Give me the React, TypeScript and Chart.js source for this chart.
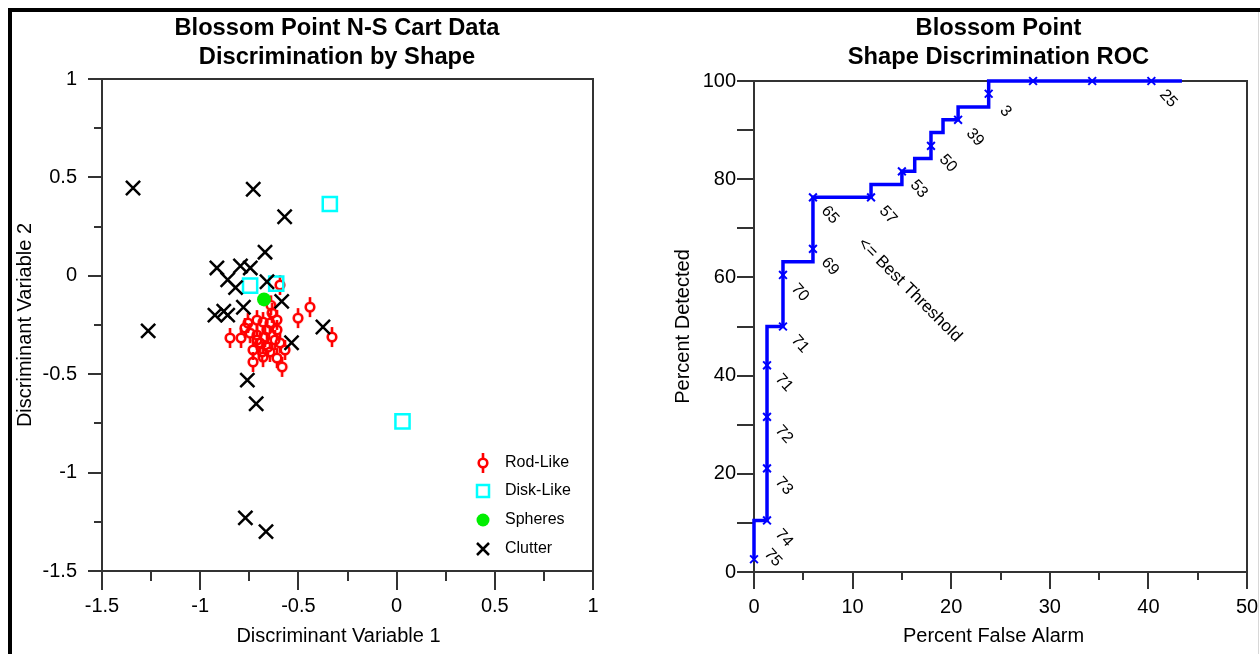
import React, { useEffect, useRef } from 'react';
import { Chart, registerables } from 'chart.js';

Chart.register(...registerables);

const FONT = "Arial, 'Liberation Sans', Helvetica, sans-serif";

// ---------------- Left chart: discriminant scatter ----------------
const leftTitle = ['Blossom Point N-S Cart Data', 'Discrimination by Shape'];
const leftXTitle = 'Discriminant Variable 1';
const leftYTitle = 'Discriminant Variable 2';
const leftMajorTicks = [-1.5, -1, -0.5, 0, 0.5, 1];
const leftMinorTicks = [-1.25, -0.75, -0.25, 0.25, 0.75];
const legendLabels = ['Rod-Like', 'Disk-Like', 'Spheres', 'Clutter'];

const rodX = [-0.594, -0.441, -0.502, -0.329, -0.634, -0.64, -0.848, -0.792, -0.757, -0.711, -0.68, -0.645, -0.609, -0.746, -0.711, -0.67, -0.696, -0.655, -0.731, -0.685, -0.619, -0.594, -0.568, -0.609, -0.583, -0.68, -0.731, -0.645, -0.711, -0.772, -0.66, -0.609];
const rodY = [-0.047, -0.159, -0.215, -0.311, -0.189, -0.15, -0.316, -0.316, -0.24, -0.225, -0.235, -0.24, -0.275, -0.291, -0.301, -0.311, -0.341, -0.362, -0.377, -0.387, -0.326, -0.341, -0.377, -0.418, -0.463, -0.413, -0.438, -0.387, -0.326, -0.265, -0.275, -0.224];

const diskX = [-0.746, -0.613, -0.34, 0.03];
const diskY = [-0.05, -0.04, 0.365, -0.74];

const sphereX = [-0.675];
const sphereY = [-0.12];

const clutterX = [-1.342, -0.73, -0.57, -0.67, -0.915, -0.795, -0.745, -0.86, -0.82, -0.66, -0.585, -0.78, -0.925, -0.88, -0.86, -1.265, -0.375, -0.535, -0.76, -0.715, -0.77, -0.665];
const clutterY = [0.446, 0.44, 0.3, 0.12, 0.04, 0.05, 0.04, -0.02, -0.06, -0.03, -0.13, -0.16, -0.2, -0.18, -0.2, -0.28, -0.26, -0.34, -0.53, -0.65, -1.23, -1.3];

// ---------------- Right chart: ROC ----------------
const rightTitle = ['Blossom Point', 'Shape Discrimination ROC'];
const rightXTitle = 'Percent False Alarm';
const rightYTitle = 'Percent Detected';
const rightXMajor = [0, 10, 20, 30, 40, 50];
const rightXMinor = [5, 15, 25, 35, 45];
const rightYMajor = [0, 20, 40, 60, 80, 100];
const rightYMinor = [10, 30, 50, 70, 90];

// ROC curve vertices (percent false alarm, percent detected)
const rocFA = [0, 0, 1.32, 1.32, 2.94, 2.94, 5.98, 5.98, 11.87, 11.87, 15.0, 15.0, 16.3, 16.3, 17.95, 17.95, 19.17, 19.17, 20.7, 20.7, 23.8, 23.8, 43.4];
const rocPD = [2.6, 10.5, 10.5, 50, 50, 63.2, 63.2, 76.3, 76.3, 78.9, 78.9, 81.6, 81.6, 84.2, 84.2, 89.5, 89.5, 92.1, 92.1, 94.7, 94.7, 100, 100];

// Threshold markers
const markerFA = [0, 1.32, 1.32, 1.32, 1.32, 2.94, 2.94, 5.98, 5.98, 11.87, 15.0, 17.95, 20.7, 23.8, 28.3, 34.3, 40.3];
const markerPD = [2.6, 10.5, 21.1, 31.6, 42.1, 50, 60.5, 65.8, 76.3, 76.3, 81.6, 86.8, 92.1, 97.4, 100, 100, 100];
const markerLabels = ['75', '74', '73', '72', '71', '71', '70', '69', '65', '57', '53', '50', '39', ' 3', '', '', '25'];

const annotationText = '<= Best Threshold';
const annotationFA = 15.8;
const annotationPD = 57.4;

type AxisSpec = {
  major: number[];
  minor: number[];
  majorLen: number;
  minorLen: number;
  labels: number[];
};

type FrameOpts = {
  x: AxisSpec;
  y: AxisSpec;
  xLabelOffset: number;
  yLabelGap: number;
  title: string[];
  titleDx: number;
  xTitle: string;
  xTitleDx: number;
  xTitleY: number;
  yTitle: string;
  yTitleX: number;
};

function framePlugin(o: FrameOpts) {
  return {
    id: 'frame',
    beforeDatasetsDraw(chart: any) {
      const { ctx, chartArea: a, scales } = chart;
      const xs = scales.x;
      const ys = scales.y;
      ctx.save();
      ctx.strokeStyle = '#333';
      ctx.lineWidth = 2;
      ctx.strokeRect(a.left, a.top, a.right - a.left, a.bottom - a.top);
      ctx.beginPath();
      o.x.major.forEach((v) => {
        const px = Math.round(xs.getPixelForValue(v));
        ctx.moveTo(px, a.bottom);
        ctx.lineTo(px, a.bottom + o.x.majorLen);
      });
      o.x.minor.forEach((v) => {
        const px = Math.round(xs.getPixelForValue(v));
        ctx.moveTo(px, a.bottom);
        ctx.lineTo(px, a.bottom + o.x.minorLen);
      });
      o.y.major.forEach((v) => {
        const py = Math.round(ys.getPixelForValue(v));
        ctx.moveTo(a.left, py);
        ctx.lineTo(a.left - o.y.majorLen, py);
      });
      o.y.minor.forEach((v) => {
        const py = Math.round(ys.getPixelForValue(v));
        ctx.moveTo(a.left, py);
        ctx.lineTo(a.left - o.y.minorLen, py);
      });
      ctx.stroke();

      ctx.fillStyle = '#000';
      ctx.font = `20px ${FONT}`;
      ctx.textAlign = 'center';
      ctx.textBaseline = 'middle';
      o.x.labels.forEach((v) => {
        ctx.fillText(String(v), xs.getPixelForValue(v), a.bottom + o.xLabelOffset);
      });
      ctx.textAlign = 'right';
      o.y.labels.forEach((v) => {
        ctx.fillText(String(v), a.left - o.yLabelGap, ys.getPixelForValue(v));
      });

      // axis titles
      const cx = (a.left + a.right) / 2;
      const cy = (a.top + a.bottom) / 2;
      ctx.textAlign = 'center';
      ctx.fillText(o.xTitle, cx + o.xTitleDx, o.xTitleY);
      ctx.save();
      ctx.translate(o.yTitleX, cy);
      ctx.rotate(-Math.PI / 2);
      ctx.fillText(o.yTitle, 0, 0);
      ctx.restore();

      // title
      ctx.font = `bold 23.7px ${FONT}`;
      ctx.fillText(o.title[0], cx + o.titleDx, 28);
      ctx.fillText(o.title[1], cx + o.titleDx, 57);
      ctx.restore();
    },
  };
}

function makeRodIcon() {
  const c = document.createElement('canvas');
  c.width = 14;
  c.height = 22;
  const g = c.getContext('2d')!;
  g.strokeStyle = '#ff0000';
  g.lineWidth = 2.6;
  g.beginPath();
  g.arc(7, 11, 4.3, 0, Math.PI * 2);
  g.stroke();
  g.beginPath();
  g.moveTo(7, 1);
  g.lineTo(7, 6.7);
  g.moveTo(7, 15.3);
  g.lineTo(7, 21);
  g.stroke();
  return c;
}

const leftLegendPlugin = {
  id: 'leftLegend',
  afterDatasetsDraw(chart: any) {
    const { ctx, chartArea: a } = chart;
    const sx = a.right - 110;
    const tx = a.right - 88;
    const rows = [a.bottom - 108, a.bottom - 80, a.bottom - 51, a.bottom - 22];
    ctx.save();
    // rod
    const rod = makeRodIcon();
    ctx.drawImage(rod, sx - 7, rows[0] - 11);
    // disk
    ctx.strokeStyle = '#00ffff';
    ctx.lineWidth = 2.5;
    ctx.strokeRect(sx - 6, rows[1] - 6, 12, 12);
    // sphere
    ctx.fillStyle = '#00ee00';
    ctx.beginPath();
    ctx.arc(sx, rows[2], 6.5, 0, Math.PI * 2);
    ctx.fill();
    // clutter
    ctx.strokeStyle = '#000';
    ctx.lineWidth = 2.5;
    ctx.beginPath();
    ctx.moveTo(sx - 6, rows[3] - 6);
    ctx.lineTo(sx + 6, rows[3] + 6);
    ctx.moveTo(sx + 6, rows[3] - 6);
    ctx.lineTo(sx - 6, rows[3] + 6);
    ctx.stroke();
    ctx.fillStyle = '#000';
    ctx.font = `16px ${FONT}`;
    ctx.textAlign = 'left';
    ctx.textBaseline = 'middle';
    legendLabels.forEach((t, i) => ctx.fillText(t, tx, rows[i]));
    ctx.restore();
  },
};

const rightLabelPlugin = {
  id: 'rocLabels',
  afterDatasetsDraw(chart: any) {
    const { ctx, scales } = chart;
    const xs = scales.x;
    const ys = scales.y;
    const ang = (48 * Math.PI) / 180;
    ctx.save();
    ctx.fillStyle = '#000';
    ctx.font = `16px ${FONT}`;
    ctx.textAlign = 'left';
    ctx.textBaseline = 'middle';
    markerLabels.forEach((t, i) => {
      if (!t) return;
      const px = xs.getPixelForValue(markerFA[i]);
      const py = ys.getPixelForValue(markerPD[i]);
      const ax = i === 0 ? px + 13 : px + 11;
      const ay = i === 0 ? py - 8 : py + 11;
      ctx.save();
      ctx.translate(ax, ay);
      ctx.rotate(ang);
      ctx.fillText(t, 0, 0);
      ctx.restore();
    });
    ctx.font = `17px ${FONT}`;
    ctx.textAlign = 'center';
    ctx.save();
    ctx.translate(xs.getPixelForValue(annotationFA), ys.getPixelForValue(annotationPD));
    ctx.rotate(Math.PI / 4);
    ctx.fillText(annotationText, 0, 0);
    ctx.restore();
    ctx.restore();
  },
};

function toPts(xv: number[], yv: number[]) {
  return xv.map((x, i) => ({ x, y: yv[i] }));
}

function LeftChart() {
  const ref = useRef<HTMLCanvasElement>(null);
  useEffect(() => {
    const rod = makeRodIcon();
    const chart = new Chart(ref.current!, {
      type: 'scatter',
      data: {
        datasets: [
          {
            label: 'Clutter',
            data: toPts(clutterX, clutterY),
            pointStyle: 'crossRot',
            pointRadius: 10,
            pointBorderColor: '#000',
            pointBackgroundColor: '#000',
            pointBorderWidth: 2.5,
            showLine: false,
          },
          {
            label: 'Spheres',
            data: toPts(sphereX, sphereY),
            pointStyle: 'circle',
            pointRadius: 7,
            pointBorderColor: '#00ee00',
            pointBackgroundColor: '#00ee00',
            pointBorderWidth: 0,
            showLine: false,
          },
          {
            label: 'Disk-Like',
            data: toPts(diskX, diskY),
            pointStyle: 'rect',
            pointRadius: 10,
            pointBorderColor: '#00ffff',
            pointBackgroundColor: 'rgba(0,0,0,0)',
            pointBorderWidth: 2.5,
            showLine: false,
          },
          {
            label: 'Rod-Like',
            data: toPts(rodX, rodY),
            pointStyle: rod as any,
            pointRadius: 7,
            showLine: false,
          },
        ],
      } as any,
      options: {
        responsive: false,
        animation: false,
        events: [],
        layout: { padding: { left: 102, top: 79, right: 37, bottom: 83 } },
        scales: {
          x: { type: 'linear', min: -1.5, max: 1, display: false },
          y: { type: 'linear', min: -1.5, max: 1, display: false },
        },
        plugins: { legend: { display: false }, tooltip: { enabled: false }, title: { display: false } },
      },
      plugins: [
        framePlugin({
          x: { major: leftMajorTicks, minor: leftMinorTicks, majorLen: 19, minorLen: 10, labels: leftMajorTicks },
          y: { major: leftMajorTicks, minor: leftMinorTicks, majorLen: 14, minorLen: 8, labels: leftMajorTicks },
          xLabelOffset: 35,
          yLabelGap: 25,
          title: leftTitle,
          titleDx: -10.5,
          xTitle: leftXTitle,
          xTitleDx: -9,
          xTitleY: 636,
          yTitle: leftYTitle,
          yTitleX: 25,
        }),
        leftLegendPlugin,
      ] as any,
    });
    return () => chart.destroy();
  }, []);
  return <canvas ref={ref} width={630} height={654} style={{ position: 'absolute', left: 0, top: 0 }} />;
}

function RightChart() {
  const ref = useRef<HTMLCanvasElement>(null);
  useEffect(() => {
    const chart = new Chart(ref.current!, {
      type: 'scatter',
      data: {
        datasets: [
          {
            label: 'Markers',
            data: toPts(markerFA, markerPD),
            pointStyle: 'crossRot',
            pointRadius: 5.5,
            pointBorderColor: '#0000ff',
            pointBackgroundColor: '#0000ff',
            pointBorderWidth: 2,
            showLine: false,
            clip: false,
          },
          {
            label: 'ROC',
            data: toPts(rocFA, rocPD),
            showLine: true,
            borderColor: '#0000ff',
            borderWidth: 3.5,
            pointRadius: 0,
            tension: 0,
            fill: false,
            clip: false,
            borderJoinStyle: 'miter',
          },
        ],
      } as any,
      options: {
        responsive: false,
        animation: false,
        events: [],
        layout: { padding: { left: 124, top: 81, right: 13, bottom: 82 } },
        scales: {
          x: { type: 'linear', min: 0, max: 50, display: false },
          y: { type: 'linear', min: 0, max: 100, display: false },
        },
        plugins: { legend: { display: false }, tooltip: { enabled: false }, title: { display: false } },
      },
      plugins: [
        framePlugin({
          x: { major: rightXMajor, minor: rightXMinor, majorLen: 17, minorLen: 8, labels: rightXMajor },
          y: { major: rightYMajor, minor: rightYMinor, majorLen: 17, minorLen: 17, labels: rightYMajor },
          xLabelOffset: 35,
          yLabelGap: 18,
          title: rightTitle,
          titleDx: -2,
          xTitle: rightXTitle,
          xTitleDx: -7,
          xTitleY: 636,
          yTitle: rightYTitle,
          yTitleX: 53,
        }),
        rightLabelPlugin,
      ] as any,
    });
    return () => chart.destroy();
  }, []);
  return <canvas ref={ref} width={630} height={654} style={{ position: 'absolute', left: 630, top: 0 }} />;
}

export default function App() {
  return (
    <div style={{ position: 'fixed', left: 0, top: 0, width: 1260, height: 654, overflow: 'hidden', background: '#fff' }}>
      <div
        style={{
          position: 'absolute',
          left: 8,
          top: 8,
          width: 1300,
          height: 700,
          borderTop: '4px solid #000',
          borderLeft: '4px solid #000',
          boxSizing: 'border-box',
        }}
      />
      <div style={{ position: 'absolute', left: 1258, top: 12, width: 1, height: 642, background: '#d8d8d8' }} />
      <LeftChart />
      <RightChart />
    </div>
  );
}
